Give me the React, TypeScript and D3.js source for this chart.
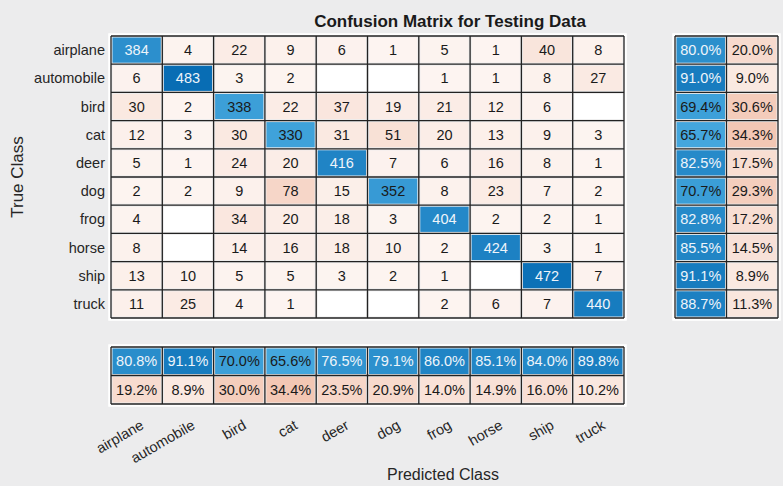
import React from "react";
import * as d3 from "d3";

// classes (same order on both axes)
const classes = ["airplane", "automobile", "bird", "cat", "deer", "dog", "frog", "horse", "ship", "truck"];

// rows = true class, cols = predicted class (0 = empty cell)
const counts = [
  [384, 4, 22, 9, 6, 1, 5, 1, 40, 8],
  [6, 483, 3, 2, 0, 0, 1, 1, 8, 27],
  [30, 2, 338, 22, 37, 19, 21, 12, 6, 0],
  [12, 3, 30, 330, 31, 51, 20, 13, 9, 3],
  [5, 1, 24, 20, 416, 7, 6, 16, 8, 1],
  [2, 2, 9, 78, 15, 352, 8, 23, 7, 2],
  [4, 0, 34, 20, 18, 3, 404, 2, 2, 1],
  [8, 0, 14, 16, 18, 10, 2, 424, 3, 1],
  [13, 10, 5, 5, 3, 2, 1, 0, 472, 7],
  [11, 25, 4, 1, 0, 0, 2, 6, 7, 440],
];

// row summary (true class): correct / incorrect %
const rowCorrect = [80.0, 91.0, 69.4, 65.7, 82.5, 70.7, 82.8, 85.5, 91.1, 88.7];
const rowWrong = [20.0, 9.0, 30.6, 34.3, 17.5, 29.3, 17.2, 14.5, 8.9, 11.3];

// column summary (predicted class): correct / incorrect %
const colCorrect = [80.8, 91.1, 70.0, 65.6, 76.5, 79.1, 86.0, 85.1, 84.0, 89.8];
const colWrong = [19.2, 8.9, 30.0, 34.4, 23.5, 20.9, 14.0, 14.9, 16.0, 10.2];

const W = 783;
const H = 486;
const FONT = "'Liberation Sans', Arial, Helvetica, sans-serif";

// blue ramp is brighter in the middle than a plain white->blue mix
const blueMix = d3.scaleLinear<string>()
  .domain([0, 0.66, 1])
  .range(["#ffffff", "#43a6dd", "#086db4"])
  .clamp(true);
const orangeMix = d3.interpolateRgb("#ffffff", "#d95319");

const maxCount = d3.max(counts.flat()) || 1;

// tint amount for the off-diagonal / error cells
const orangeT = (frac: number) => (frac <= 0 ? 0 : Math.min(1, 0.06 + frac * 1.1));

function Cell({ x, y, w, h, fill, label, dark }: any) {
  return (
    <g>
      <rect x={x + 1.5} y={y + 1.5} width={w - 3} height={h - 3} fill={fill} />
      <text
        x={x + w / 2}
        y={y + h / 2 + 5}
        textAnchor="middle"
        fontSize={14.5}
        fill={dark ? "#eef4fa" : "#1a1a1a"}
      >
        {label}
      </text>
    </g>
  );
}

function Grid({ x0, x1, y0, y1, xs, ys }: any) {
  return (
    <g>
      <rect x={x0 - 1.5} y={y0 - 1.5} width={x1 - x0 + 3} height={y1 - y0 + 3} fill="none" stroke="#ffffff" strokeWidth={2.5} />
      {xs.map((x: number, i: number) => (
        <line key={"v" + i} x1={x} x2={x} y1={y0} y2={y1} stroke="#222" strokeWidth={1.3} />
      ))}
      {ys.map((y: number, i: number) => (
        <line key={"h" + i} x1={x0} x2={x1} y1={y} y2={y} stroke="#222" strokeWidth={1.3} />
      ))}
    </g>
  );
}

export default function App() {
  // main matrix
  const mx0 = 111, mx1 = 624, my0 = 36, my1 = 318;
  const xScale = d3.scaleBand<string>().domain(classes).range([mx0, mx1]);
  const yScale = d3.scaleBand<string>().domain(classes).range([my0, my1]);

  // right summary panel
  const rx0 = 675, rx1 = 778;
  const rxScale = d3.scaleBand<string>().domain(["correct", "wrong"]).range([rx0, rx1]);

  // bottom summary panel
  const by0 = 347, by1 = 404;
  const byScale = d3.scaleBand<string>().domain(["correct", "wrong"]).range([by0, by1]);

  const bw = xScale.bandwidth();
  const bh = yScale.bandwidth();

  const edges = (sc: d3.ScaleBand<string>) => [...sc.domain().map((d) => sc(d) as number), sc.range()[1]];

  return (
    <svg width={W} height={H} style={{ display: "block", position: "absolute", left: 0, top: 0 }} fontFamily={FONT}>
      <rect x={0} y={0} width={W} height={H} fill="#ececed" />

      <text x={450} y={27} textAnchor="middle" fontSize={17} fontWeight="bold" fill="#1a1a1a">
        Confusion Matrix for Testing Data
      </text>

      {/* main matrix cells */}
      {counts.map((row, i) =>
        row.map((v, j) => {
          const frac = v / maxCount;
          const diag = i === j;
          const fill = v === 0 ? "#ffffff" : diag ? blueMix(frac) : orangeMix(orangeT(frac));
          return (
            <Cell
              key={i + "-" + j}
              x={xScale(classes[j])}
              y={yScale(classes[i])}
              w={bw}
              h={bh}
              fill={fill}
              label={v === 0 ? "" : String(v)}
              dark={diag && frac > 0.75}
            />
          );
        })
      )}
      <Grid x0={mx0} x1={mx1} y0={my0} y1={my1} xs={edges(xScale)} ys={edges(yScale)} />

      {/* row labels */}
      {classes.map((c) => (
        <text key={"yl" + c} x={105} y={(yScale(c) as number) + bh / 2 + 5} textAnchor="end" fontSize={14.5} fill="#262626">
          {c}
        </text>
      ))}
      <text transform={`translate(23, ${(my0 + my1) / 2}) rotate(-90)`} textAnchor="middle" fontSize={17} fill="#262626">
        True Class
      </text>

      {/* right summary */}
      {classes.map((c, i) => (
        <g key={"rs" + c}>
          <Cell x={rxScale("correct")} y={yScale(c)} w={rxScale.bandwidth()} h={bh}
            fill={blueMix(rowCorrect[i] / 100)} label={rowCorrect[i].toFixed(1) + "%"}
            dark={rowCorrect[i] / 100 > 0.75} />
          <Cell x={rxScale("wrong")} y={yScale(c)} w={rxScale.bandwidth()} h={bh}
            fill={orangeMix(orangeT(rowWrong[i] / 100 * 0.7))} label={rowWrong[i].toFixed(1) + "%"} dark={false} />
        </g>
      ))}
      <Grid x0={rx0} x1={rx1} y0={my0} y1={my1} xs={edges(rxScale)} ys={edges(yScale)} />

      {/* bottom summary */}
      {classes.map((c, j) => (
        <g key={"bs" + c}>
          <Cell x={xScale(c)} y={byScale("correct")} w={bw} h={byScale.bandwidth()}
            fill={blueMix(colCorrect[j] / 100)} label={colCorrect[j].toFixed(1) + "%"}
            dark={colCorrect[j] / 100 > 0.75} />
          <Cell x={xScale(c)} y={byScale("wrong")} w={bw} h={byScale.bandwidth()}
            fill={orangeMix(orangeT(colWrong[j] / 100 * 0.7))} label={colWrong[j].toFixed(1) + "%"} dark={false} />
        </g>
      ))}
      <Grid x0={mx0} x1={mx1} y0={by0} y1={by1} xs={edges(xScale)} ys={edges(byScale)} />

      {/* rotated column labels */}
      {classes.map((c) => (
        <text key={"xl" + c}
          transform={`translate(${(xScale(c) as number) + bw / 2 + 8}, ${428}) rotate(-30)`}
          textAnchor="end" fontSize={14.5} fill="#262626">
          {c}
        </text>
      ))}
      <text x={443} y={480} textAnchor="middle" fontSize={16} fill="#262626">
        Predicted Class
      </text>
    </svg>
  );
}
